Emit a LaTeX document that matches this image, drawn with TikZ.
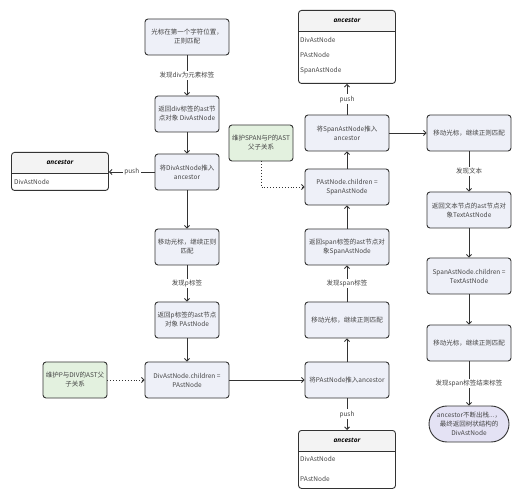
\documentclass[tikz,border=0pt]{standalone}
\usepackage{fontspec}
\setmainfont{Noto Sans CJK SC}
\newfontfamily\headfont{Open Sans}
\usepackage{xcolor}
\usepackage{tikz}
\usetikzlibrary{positioning, shapes.misc, arrows.meta, calc}

\definecolor{boxfill}{HTML}{EEF0F8}
\definecolor{notefill}{HTML}{E3F1DF}
\definecolor{endfill}{HTML}{E4E2F4}
\definecolor{headfill}{HTML}{F3F3F3}
\definecolor{linegray}{HTML}{333333}
\definecolor{textgray}{HTML}{444444}

\begin{document}
\begin{tikzpicture}[
    x=1pt, y=-1pt,
    font=\fontsize{6.5}{9}\selectfont,
    box/.style={rectangle, draw=linegray, fill=boxfill, rounded corners=3pt, line width=0.9pt, minimum width=64pt, minimum height=36pt, align=center, inner sep=2pt, text=textgray},
    widebox/.style={box, minimum width=84pt},
    note/.style={box, fill=notefill},
    endbox/.style={rounded rectangle, draw=linegray, fill=endfill, line width=0.9pt, minimum width=84pt, minimum height=36pt, align=center, inner sep=2pt, text=textgray},
    stackbody/.style={rectangle, draw=linegray, rounded corners=3pt, line width=0.9pt, minimum width=97pt, anchor=north},
    stackhead/.style={rectangle, fill=headfill, rounded corners=3pt, minimum width=97pt, minimum height=21pt, inner sep=0pt, anchor=north, font=\headfont\fontsize{6.5}{9}\selectfont\bfseries\itshape},
    entry/.style={anchor=west, inner sep=2pt, text=textgray},
    arrow/.style={draw=linegray, line width=0.9pt, -{Straight Barb[length=2.5pt,width=5pt]}},
    hint/.style={arrow, dotted},
    label/.style={fill=white, text=textgray, inner sep=1.5pt}
]
\useasboundingbox (0,0) rectangle (523,500);

% Left column: div
\node[widebox] (cursor) at (187,37) {光标在第一个字符位置，\\正则匹配};
\node[box] (divret) at (187,114) {返回div标签的ast节\\点对象 DivAstNode};
\node[box] (divpush) at (187,172) {将DivAstNode推入\\ancestor};
\node[box] (move1) at (187,247) {移动光标，继续正则\\匹配};
\node[box] (pret) at (187,320) {返回p标签的ast节点\\对象 PAstNode};
\node[widebox] (divchild) at (187,380) {DivAstNode.children =\\PAstNode};
\node[note] (pnote) at (75,380) {维护P与DIV的AST父\\子关系};

% Middle column: p
\node[widebox] (ppush) at (347,380) {将PAstNode推入ancestor};
\node[widebox] (move2) at (347,320) {移动光标，继续正则匹配};
\node[widebox] (spanret) at (347,247) {返回span标签的ast节点对\\象SpanAstNode};
\node[widebox] (pchild) at (347,187) {PAstNode.children =\\SpanAstNode};
\node[widebox] (spanpush) at (347,133) {将SpanAstNode推入\\ancestor};
\node[note] (spannote) at (261,143) {维护SPAN与P的AST\\父子关系};

% Right column: span
\node[widebox] (move3) at (469,133) {移动光标，继续正则匹配};
\node[widebox] (textret) at (469,210) {返回文本节点的ast节点对\\象TextAstNode};
\node[widebox] (spanchild) at (469,276) {SpanAstNode.children =\\TextAstNode};
\node[widebox] (move4) at (469,343) {移动光标，继续正则匹配};
\node[endbox] (done) at (469,424) {ancestor不断出栈...，\\最终返回树状结构的\\DivAstNode};

% Stack after DivAstNode
\node[stackhead] (stack1head) at (60,152) {ancestor};
\node[stackbody, minimum height=38pt] (stack1) at (60,152) {};
\draw[linegray, line width=0.9pt] (stack1.west |- stack1head.south) -- (stack1.east |- stack1head.south);
\node[entry] (stack1a) at (12,182) {DivAstNode};

% Stack after SpanAstNode
\node[stackhead] (stack2head) at (347,10) {ancestor};
\node[stackbody, minimum height=73pt] (stack2) at (347,10) {};
\draw[linegray, line width=0.9pt] (stack2.west |- stack2head.south) -- (stack2.east |- stack2head.south);
\node[entry] (stack2a) at (298,40) {DivAstNode};
\node[entry] (stack2b) at (298,55) {PAstNode};
\node[entry] (stack2c) at (298,71) {SpanAstNode};

% Stack after PAstNode
\node[stackhead] (stack3head) at (347,430) {ancestor};
\node[stackbody, minimum height=58pt] (stack3) at (347,430) {};
\draw[linegray, line width=0.9pt] (stack3.west |- stack3head.south) -- (stack3.east |- stack3head.south);
\node[entry] (stack3a) at (298,459) {DivAstNode};
\node[entry] (stack3b) at (298,479) {PAstNode};

% Arrows - div
\draw[arrow] (cursor) -- node[label] {发现div为元素标签} (divret);
\draw[arrow] (divret) -- (divpush);
\draw[arrow] (divpush.west) -- node[label] {push} (divpush.west -| stack1.east);
\draw[arrow] (divpush) -- (move1);
\draw[arrow] (move1) -- node[label] {发现p标签} (pret);
\draw[arrow] (pret) -- (divchild);
\draw[hint] (pnote) -- (divchild);
\draw[arrow] (divchild) -- (ppush);

% Arrows - p
\draw[arrow] (ppush) -- node[label] {push} (stack3);
\draw[arrow] (ppush) -- (move2);
\draw[arrow] (move2) -- node[label] {发现span标签} (spanret);
\draw[arrow] (spanret) -- (pchild);
\draw[arrow] (pchild) -- (spanpush);
\draw[arrow] (spanpush) -- node[label] {push} (stack2);
\draw[hint] (spannote.south) |- (pchild.west);
\draw[arrow] (spanpush) -- (move3);

% Arrows - span
\draw[arrow] (move3) -- node[label] {发现文本} (textret);
\draw[arrow] (textret) -- (spanchild);
\draw[arrow] (spanchild) -- (move4);
\draw[arrow] (move4) -- node[label] {发现span标签结束标签} (done);

\end{tikzpicture}
\end{document}
